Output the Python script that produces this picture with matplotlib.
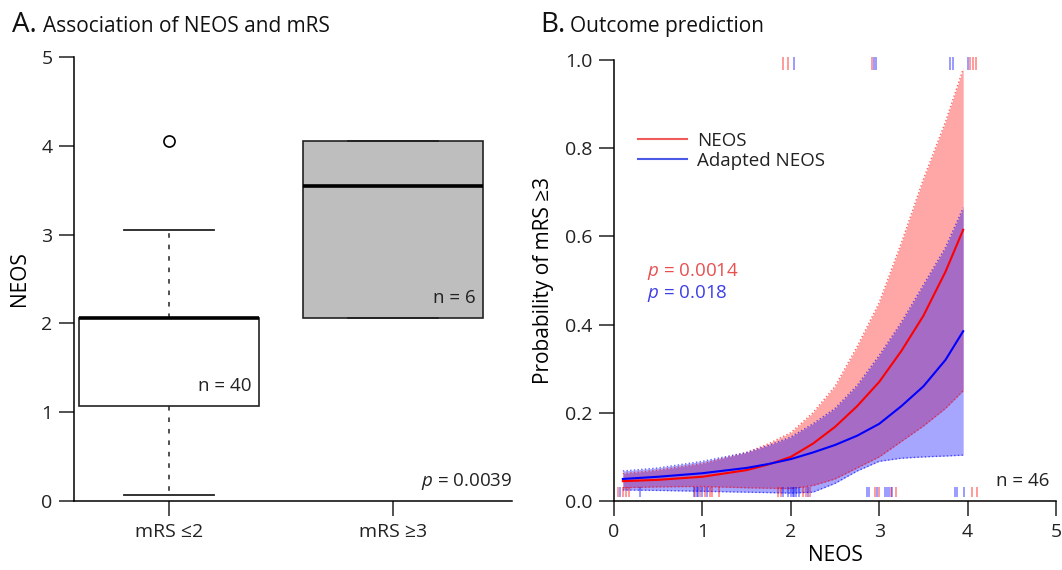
import matplotlib.pyplot as plt
from matplotlib.lines import Line2D

plt.rcParams['font.family'] = ['Open Sans', 'DejaVu Sans']
plt.rcParams['mathtext.fontset'] = 'custom'
plt.rcParams['mathtext.rm'] = 'Open Sans'
plt.rcParams['mathtext.it'] = 'Open Sans:italic'

# panel A: box plot summary (NEOS by outcome)
groups = ['mRS ≤2', 'mRS ≥3']
group_n = [40, 6]
whislo = [0.07, 2.06]
q1 = [1.07, 2.06]
med = [2.06, 3.55]
q3 = [2.06, 4.05]
whishi = [3.05, 4.05]
fliers = [[4.05], []]
box_colors = ['white', '#bebebe']
p_box = '0.0039'

# panel B: predicted probability curves with confidence bands
neos_x = [0.1, 0.5, 1.0, 1.5, 1.75, 2.0, 2.25, 2.5, 2.75, 3.0, 3.25, 3.5, 3.75, 3.95]
neos_fit = [0.045, 0.048, 0.055, 0.070, 0.083, 0.100, 0.130, 0.168, 0.215, 0.270,
            0.340, 0.420, 0.520, 0.615]
neos_lo = [0.030, 0.032, 0.033, 0.030, 0.029, 0.028, 0.035, 0.050, 0.075, 0.100,
           0.135, 0.170, 0.210, 0.250]
neos_hi = [0.062, 0.070, 0.085, 0.110, 0.130, 0.155, 0.200, 0.260, 0.350, 0.450,
           0.585, 0.730, 0.860, 0.980]
adapt_fit = [0.050, 0.055, 0.063, 0.075, 0.084, 0.095, 0.110, 0.127, 0.148, 0.175,
             0.215, 0.260, 0.320, 0.385]
adapt_lo = [0.025, 0.024, 0.022, 0.020, 0.019, 0.018, 0.020, 0.040, 0.068, 0.090,
            0.097, 0.100, 0.102, 0.104]
adapt_hi = [0.068, 0.075, 0.090, 0.110, 0.126, 0.145, 0.175, 0.210, 0.262, 0.330,
            0.405, 0.490, 0.575, 0.665]
p_neos = '0.0014'
p_adapt = '0.018'
n_total = 46

# rug: observed scores, bottom = mRS <=2, top = mRS >=3
rug_neos_good = [0.04, 0.105, 0.14, 0.17, 0.92, 0.97, 1.03, 1.09, 1.11, 1.19,
                 1.86, 1.89, 2.14, 2.17, 2.22, 2.95, 3.0, 3.13, 3.19, 4.05, 4.11]
rug_adapt_good = [0.07, 0.29, 0.90, 0.94, 0.955, 0.99, 1.05, 1.91, 1.97, 2.0, 2.02,
                  2.04, 2.06, 2.09, 2.2, 2.86, 2.88, 2.98, 3.07, 3.09, 3.11, 3.15,
                  3.86, 3.88, 3.96]
rug_neos_poor = [1.91, 1.97, 2.92, 4.03, 4.06, 4.09]
rug_adapt_poor = [2.04, 2.94, 2.96, 3.80, 3.83, 4.00]

red = '#ff0000'
blue = '#0000ff'

fig = plt.figure(figsize=(10.62, 5.70), dpi=100)
axA = fig.add_axes([74 / 1062, 69 / 570, 438 / 1062, 444 / 570])
axB = fig.add_axes([614 / 1062, 69 / 570, 442 / 1062, 441 / 570])

for ax in (axA, axB):
    ax.spines['top'].set_visible(False)
    ax.spines['right'].set_visible(False)
    for s in ('left', 'bottom'):
        ax.spines[s].set_linewidth(1.1)
    ax.tick_params(length=10.5, width=1.1, labelsize=14, pad=5, colors='#222222')

# ---- panel A
stats = []
for i in range(2):
    stats.append(dict(whislo=whislo[i], q1=q1[i], med=med[i], q3=q3[i],
                      whishi=whishi[i], fliers=fliers[i]))
bp = axA.bxp(stats, positions=[1, 2], widths=0.8, capwidths=0.4, patch_artist=True,
             boxprops=dict(linewidth=1.2, edgecolor='#222222'),
             whiskerprops=dict(linewidth=1.1, linestyle=(0, (3, 4.5)), color='#222222'),
             capprops=dict(linewidth=1.3, color='#222222'),
             medianprops=dict(linewidth=2.6, color='black'),
             flierprops=dict(marker='o', markersize=8, markerfacecolor='none',
                             markeredgecolor='black', markeredgewidth=1.2))
for patch, c in zip(bp['boxes'], box_colors):
    patch.set_facecolor(c)
axA.set_xlim(0.576, 2.531)
axA.set_ylim(0, 5)
axA.set_xticks([1, 2])
axA.set_xticklabels(groups)
axA.set_yticks(range(6))
axA.set_ylabel('NEOS', fontsize=15, labelpad=8)
for i in range(2):
    axA.text(i + 1 + 0.37, q1[i] + 0.12, f'n = {group_n[i]}', ha='right', va='bottom',
             fontsize=13.5, color='#222222')
axA.text(2.53, 0.1, '$\\it{p}$ = ' + p_box, ha='right', va='bottom', fontsize=13.5,
         color='#222222')

# ---- panel B
axB.fill_between(neos_x, neos_lo, neos_hi, color=red, alpha=0.35, linewidth=0)
axB.plot(neos_x, neos_lo, color=red, lw=1, ls=':', alpha=0.6)
axB.plot(neos_x, neos_hi, color=red, lw=1, ls=':', alpha=0.6)
axB.plot(neos_x, neos_fit, color=red, lw=1.5)
axB.fill_between(neos_x, adapt_lo, adapt_hi, color=blue, alpha=0.35, linewidth=0)
axB.plot(neos_x, adapt_lo, color=blue, lw=1, ls=':', alpha=0.6)
axB.plot(neos_x, adapt_hi, color=blue, lw=1, ls=':', alpha=0.6)
axB.plot(neos_x, adapt_fit, color=blue, lw=1.5)

for xs, c in ((rug_neos_good, red), (rug_adapt_good, blue)):
    axB.vlines(xs, 0.008, 0.032, color=c, lw=1.1, alpha=0.5)
for xs, c in ((rug_neos_poor, red), (rug_adapt_poor, blue)):
    axB.vlines(xs, 0.977, 1.007, color=c, lw=1.1, alpha=0.5, clip_on=False)

axB.set_xlim(0, 5)
axB.set_ylim(0, 1)
axB.set_xticks(range(6))
axB.set_yticks([0, 0.2, 0.4, 0.6, 0.8, 1.0])
axB.set_yticklabels([f'{v:.1f}' for v in [0, 0.2, 0.4, 0.6, 0.8, 1.0]])
axB.set_xlabel('NEOS', fontsize=15, labelpad=3)
axB.set_ylabel('Probability of mRS ≥3', fontsize=15, labelpad=8)

handles = [Line2D([], [], color='#f05a5a', lw=1.5), Line2D([], [], color='#4a5ae6', lw=1.5)]
axB.legend(handles, ['NEOS', 'Adapted NEOS'], loc='upper left', bbox_to_anchor=(0.016, 0.875),
           frameon=False, fontsize=13.5, handlelength=2.6, handletextpad=0.55,
           labelspacing=0.1, labelcolor='#222222')
axB.text(0.075, 0.51, '$\\it{p}$ = ' + p_neos, fontsize=13.5, color='#e85050',
         transform=axB.transAxes)
axB.text(0.075, 0.46, '$\\it{p}$ = ' + p_adapt, fontsize=13.5, color='#3f3fe6',
         transform=axB.transAxes)
axB.text(4.93, 0.025, f'n = {n_total}', ha='right', va='bottom', fontsize=13.5,
         color='#222222')

fig.text(12 / 1062, 1 - 32 / 570, 'A.', fontsize=20, va='baseline', color='#111111')
fig.text(43 / 1062, 1 - 32 / 570, 'Association of NEOS and mRS', fontsize=15,
         va='baseline', color='#111111')
fig.text(540 / 1062, 1 - 32 / 570, 'B.', fontsize=20, va='baseline', color='#111111')
fig.text(570 / 1062, 1 - 32 / 570, 'Outcome prediction', fontsize=15,
         va='baseline', color='#111111')

fig.savefig('out.png', dpi=100)
